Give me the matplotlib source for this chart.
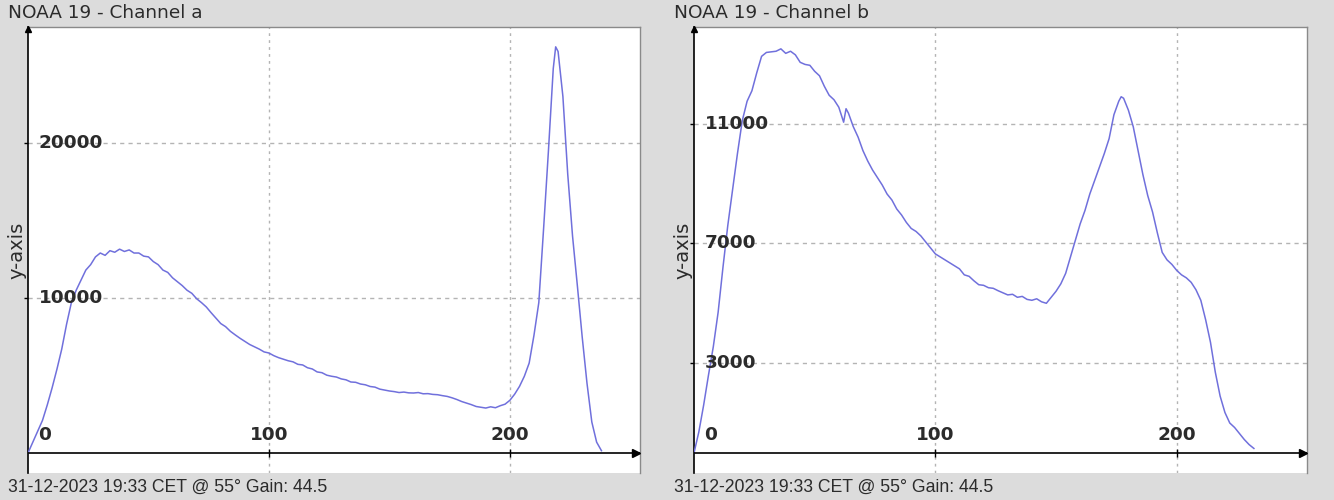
import numpy as np
import matplotlib
matplotlib.use("Agg")
import matplotlib.pyplot as plt

# histogram bins and counts
bins_a = list(range(0, 219, 2)) + [219] + list(range(220, 239, 2))
counts_a = [
    0, 700, 1400, 2100, 3100, 4200, 5400, 6700, 8300, 9700,
    10500, 11150, 11800, 12150, 12650, 12900, 12750, 13050, 12950, 13150,
    13000, 13100, 12900, 12900, 12700, 12650, 12350, 12150, 11800, 11650,
    11300, 11050, 10800, 10500, 10300, 9950, 9700, 9420, 9050, 8700,
    8350, 8150, 7850, 7620, 7400, 7200, 7000, 6850, 6700, 6520,
    6450, 6280, 6150, 6050, 5950, 5880, 5720, 5680, 5500, 5420,
    5230, 5180, 5020, 4950, 4900, 4780, 4720, 4580, 4560, 4450,
    4400, 4290, 4250, 4120, 4060, 4000, 3960, 3900, 3930, 3880,
    3870, 3900, 3820, 3830, 3780, 3760, 3700, 3650, 3560, 3450,
    3320, 3220, 3120, 3000, 2950, 2900, 2980, 2920, 3050, 3150,
    3400, 3800, 4300, 4950, 5800, 7600, 9700, 14500, 19500, 24800,
    26200,
    25900, 23000, 18000, 14000, 10800, 7500, 4500, 2000, 700, 150,
]

bins_b = sorted(list(range(0, 234, 2)) + [63, 177])
counts_b = [
    0, 700, 1600, 2600, 3550, 4700, 6200, 7600, 8800, 10000,
    11100, 11750, 12100, 12700, 13250, 13380, 13400, 13420, 13500, 13350,
    13420, 13300, 13050, 12980, 12950, 12750, 12600, 12250, 11950, 11800,
    11550, 11050, 11500, 11350, 10900, 10550, 10100, 9750, 9450, 9200, 8950,
    8650, 8450, 8150, 7950, 7700, 7500, 7400, 7250, 7050, 6850,
    6650, 6550, 6450, 6350, 6250, 6150, 5950, 5900, 5750, 5620,
    5600, 5520, 5500, 5420, 5350, 5280, 5300, 5200, 5230, 5130,
    5100, 5150, 5050, 5000, 5200, 5400, 5650, 6000, 6550, 7100,
    7650, 8100, 8650, 9100, 9550, 10000, 10500, 11300, 11750, 11900, 11850,
    11450, 10900, 10100, 9300, 8600, 8050, 7350, 6700, 6450, 6300,
    6100, 5950, 5850, 5700, 5450, 5100, 4450, 3700, 2700, 1900,
    1350, 1000, 850, 650, 450, 280, 150,
]

xticks = [0, 100, 200]
yticks_a = [10000, 20000]
yticks_b = [3000, 7000, 11000]
titles = ["NOAA 19 - Channel a", "NOAA 19 - Channel b"]
footer = "31-12-2023 19:33 CET @ 55° Gain: 44.5"

W, H = 1334, 500
BG = "#dcdcdc"
LINE = "#7070dc"
GRID = "#b4b4b4"
TXT = "#2b2b2b"

fig = plt.figure(figsize=(W / 100, H / 100), dpi=100, facecolor=BG)


def panel(left_px, width_px, bins, counts, yticks, ylim, title):
    ax = fig.add_axes([left_px / W, (H - 473) / H, width_px / W, 446 / H])
    ax.set_facecolor("white")
    ax.set_xlim(0, 254)
    ax.set_ylim(*ylim)

    for t in xticks[1:]:
        ax.axvline(t, color=GRID, lw=1, ls=(0, (2, 3)), zorder=1)
    for t in yticks:
        ax.axhline(t, color=GRID, lw=1, ls=(0, (3, 3)), zorder=1)

    ax.plot(bins, counts, color=LINE, lw=1.1, zorder=3)

    # x axis drawn at y = 0 with arrow
    ax.axhline(0, color="black", lw=1.2, zorder=4)
    ax.plot([0.993], [0], marker=">", color="black", ms=6,
            transform=ax.get_yaxis_transform(), clip_on=False, zorder=5)
    ax.plot([0], [0.995], marker="^", color="black", ms=5,
            transform=ax.get_xaxis_transform(), clip_on=False, zorder=5)
    ax.plot(xticks[1:], [0] * len(xticks[1:]), ls="none", marker="|",
            color="black", ms=6, zorder=5)

    for s in ("top", "right"):
        ax.spines[s].set_color("#8a8a8a")
        ax.spines[s].set_linewidth(1)
    ax.spines["bottom"].set_visible(False)
    ax.spines["left"].set_color("black")
    ax.spines["left"].set_linewidth(1.2)

    ax.set_xticks([])
    ax.set_yticks(yticks)
    ax.tick_params(axis="y", direction="out", length=3, width=1,
                   labelleft=False, color="black")

    for t in yticks:
        ax.annotate(f"{t}", xy=(0, t), xytext=(11, 0), textcoords="offset pixels",
                    ha="left", va="center", fontsize=13.3, fontweight="bold",
                    color=TXT, family="DejaVu Sans", zorder=6)
    for t in xticks:
        if t == 0:
            ax.annotate(f"{t}", xy=(t, 0), xytext=(10, 9), textcoords="offset pixels",
                        ha="left", va="bottom", fontsize=13.3, fontweight="bold",
                        color=TXT, family="DejaVu Sans", zorder=6)
        else:
            ax.annotate(f"{t}", xy=(t, 0), xytext=(0, 9), textcoords="offset pixels",
                        ha="center", va="bottom", fontsize=13.3, fontweight="bold",
                        color=TXT, family="DejaVu Sans", zorder=6)

    fig.text((left_px - 11) / W, 0.5, "y-axis", rotation=90, ha="center", va="center",
             fontsize=14, color=TXT, family="DejaVu Sans")
    fig.text((left_px - 20) / W, 1 - 13 / H, title, ha="left", va="center",
             fontsize=13.3, color=TXT, family="DejaVu Sans")
    fig.text((left_px - 20) / W, 1 - 487 / H, footer, ha="left", va="center",
             fontsize=12.7, color=TXT, family="Liberation Sans")
    return ax


panel(28, 612, bins_a, counts_a, yticks_a, (-1290, 27480), titles[0])
panel(694, 613, bins_b, counts_b, yticks_b, (-670, 14230), titles[1])

fig.savefig("out.png", dpi=100, facecolor=BG)
